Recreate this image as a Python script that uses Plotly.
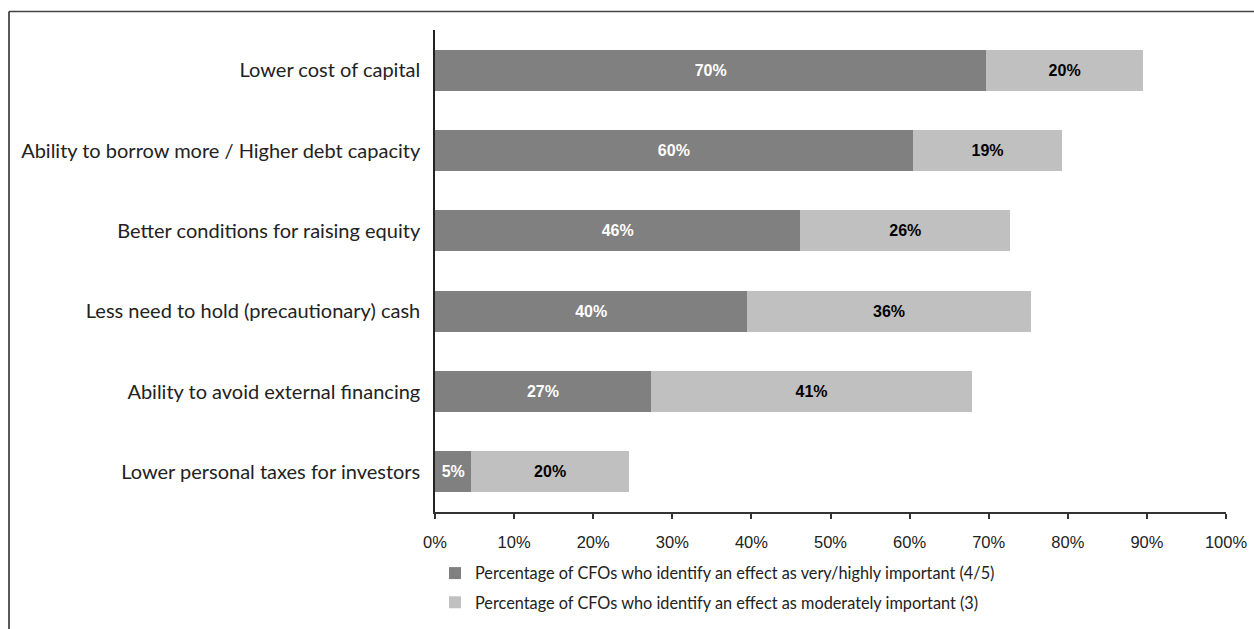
import plotly.graph_objects as go

categories = [
    "Lower cost of capital",
    "Ability to borrow more / Higher debt capacity",
    "Better conditions for raising equity",
    "Less need to hold (precautionary) cash",
    "Ability to avoid external financing",
    "Lower personal taxes for investors",
]
very_important = [69.7, 60.4, 46.2, 39.5, 27.3, 4.6]
moderately_important = [19.8, 18.9, 26.5, 35.8, 40.6, 19.9]
very_labels = ["70%", "60%", "46%", "40%", "27%", "5%"]
moderate_labels = ["20%", "19%", "26%", "36%", "41%", "20%"]
series_names = [
    "Percentage of CFOs who identify an effect as very/highly important (4/5)",
    "Percentage of CFOs who identify an effect as moderately important (3)",
]
x_ticks = [0, 10, 20, 30, 40, 50, 60, 70, 80, 90, 100]
x_tick_labels = [f"{t}%" for t in x_ticks]

W, H = 1254, 629
L, R, T, B = 435, 28, 30, 117
pw, ph = W - L - R, H - T - B

fig = go.Figure()
fig.add_trace(go.Bar(
    y=categories, x=very_important, orientation="h", name=series_names[0],
    marker=dict(color="#808080", line=dict(width=0)),
    text=very_labels, textposition="inside", insidetextanchor="middle",
    textfont=dict(family="Liberation Sans", size=16, color="white", weight="bold"),
    legendgroup="a", hoverinfo="x+y",
))
fig.add_trace(go.Bar(
    y=categories, x=moderately_important, orientation="h", name=series_names[1],
    marker=dict(color="#c0c0c0", line=dict(width=0)),
    text=moderate_labels, textposition="inside", insidetextanchor="middle",
    textfont=dict(family="Liberation Sans", size=16, color="black", weight="bold"),
    legendgroup="b", hoverinfo="x+y",
))

def px_x(p):
    return (p - L) / pw

def px_y(p):
    return (H - B - p) / ph

fig.update_layout(
    width=W, height=H,
    margin=dict(l=L, r=R, t=T, b=B, pad=0, autoexpand=False),
    barmode="stack", bargap=0.49,
    plot_bgcolor="white", paper_bgcolor="white",
    showlegend=True,
    legend=dict(
        x=px_x(435), y=px_y(556), xanchor="left", yanchor="top",
        traceorder="grouped", tracegroupgap=5,
        font=dict(family="Lato", size=16.3, color="#222222"),
        bgcolor="rgba(0,0,0,0)",
    ),
    xaxis=dict(
        range=[0, 100], tickvals=x_ticks, ticktext=x_tick_labels,
        showgrid=False, zeroline=False, automargin=False,
        showline=True, linecolor="#333333", linewidth=1.5,
        ticks="outside", ticklen=5, tickcolor="#333333", tickwidth=1.5,
        tickfont=dict(family="Liberation Sans", size=16.5, color="#222222"),
        ticklabelstandoff=9,
        fixedrange=True,
    ),
    yaxis=dict(
        autorange="reversed", showgrid=False, zeroline=False, automargin=False,
        showline=True, linecolor="#222222", linewidth=1.5,
        ticks="", ticklabelstandoff=9,
        tickfont=dict(family="Lato", size=20, color="#222222"),
        fixedrange=True,
    ),
    shapes=[
        dict(type="line", xref="paper", yref="paper",
             x0=px_x(9), x1=px_x(1260), y0=px_y(11.5), y1=px_y(11.5),
             line=dict(color="#444444", width=1.5)),
        dict(type="line", xref="paper", yref="paper",
             x0=px_x(9), x1=px_x(9), y0=px_y(11.5), y1=px_y(640),
             line=dict(color="#222222", width=1.5)),
    ],
)

fig.write_html("out.html", config={"displayModeBar": False},
               post_script="document.body.style.margin='0';")
